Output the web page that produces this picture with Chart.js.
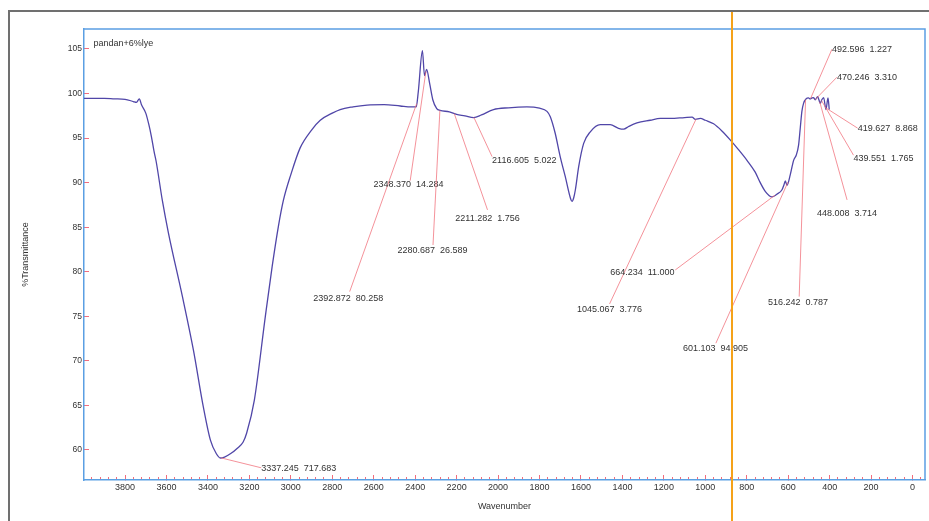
<!DOCTYPE html>
<html>
<head>
<meta charset="utf-8">
<title>pandan+6%lye FTIR</title>
<script src="https://cdn.jsdelivr.net/npm/chart.js"></script>
<style>
  html, body { margin: 0; padding: 0; background: #ffffff; }
  canvas { display: block; }
</style>
</head>
<body>
<canvas id="ftir" width="929" height="521" style="width:929px;height:521px"></canvas>
<script>
// Spectrum: wavenumber (cm-1) and % transmittance
const wavenumbers = [4000,3950,3900,3850,3800,3760,3745,3731,3720,3700,3685,3673,3660,3650,3620,3591,3523,3470,3422,3388,3360,3340,3320,3290,3258,3230,3213,3176,3123,3090,3060,3036,3000,2955,2900,2858,2800,2762,2700,2632,2550,2472,2420,2395,2385,2365,2355,2345,2330,2315,2296,2280,2235,2200,2160,2118,2080,2022,1950,1861,1800,1764,1748,1725,1700,1676,1650,1643,1635,1627,1611,1587,1555,1507,1459,1419,1394,1370,1330,1266,1217,1169,1100,1064,1048,1024,1000,960,920,880,840,799,760,735,710,679,655,630,620,614,606,590,574,561,550,542,534,526,514,502,494,486,478,470,458,452,445,438,429,418,408,402];
const transmittance = [99.45,99.45,99.45,99.4,99.35,99.1,99.0,99.4,98.7,97.8,96.5,95.2,93.5,92.4,88.0,84.4,77.2,71.2,64.8,61.1,59.6,59.1,59.2,59.6,60.2,60.9,61.9,65.6,75.0,80.6,85.1,88.0,90.9,93.9,95.9,97.0,97.8,98.2,98.5,98.7,98.75,98.6,98.5,98.5,100.2,104.8,102.0,102.7,101.1,99.3,98.3,98.1,97.95,97.65,97.5,97.3,97.6,98.2,98.4,98.5,98.35,98.0,97.4,95.6,92.9,90.7,88.2,87.9,88.3,89.2,91.8,94.4,95.7,96.5,96.5,96.1,96.0,96.3,96.7,97.0,97.2,97.2,97.3,97.35,97.1,97.2,97.0,96.6,95.8,94.8,93.7,92.5,91.2,90.0,89.0,88.4,88.7,89.2,89.8,90.2,89.7,90.9,92.5,93.1,94.2,96.1,98.0,98.9,99.4,99.5,99.4,99.5,99.55,99.3,99.65,99.3,98.9,99.3,99.55,98.2,99.5,98.2];

// Peak picks: position and intensity
const peakWavenumbers = [3337.245, 2392.872, 2348.370, 2280.687, 2211.282, 2116.605, 1045.067, 664.234, 601.103, 516.242, 448.008, 439.551, 419.627, 470.246, 492.596];
const peakIntensities = [717.683, 80.258, 14.284, 26.589, 1.756, 5.022, 3.776, 11.000, 94.905, 0.787, 3.714, 1.765, 8.868, 3.310, 1.227];

// Axis ticks
const xMajorStep = 200;
const xMinorStep = 40;
const yStep = 5;

const sampleName = 'pandan+6%lye';
const cursorWavenumber = 871;

// Where each peak label sits (wavenumber, %T) and where its leader line meets the label
const labelAnchors = [[3143,57.9],[2892,77.03],[2601,89.74],[2485,82.33],[2206.5,85.93],[2029,92.47],[1619,75.71],[1459,79.94],[1108,71.41],[698,76.58],[461,86.57],[285,92.74],[265,96.11],[365,101.83],[389,104.97]];
const leaderEnds = [[3143,58.0],[2716,77.77],[2424,90.22],[2314,83.0],[2051,86.94],[2029,92.92],[1462,76.39],[1145,80.20],[949,71.98],[547,77.21],[316,88.06],[285,93.08],[265,96.11],[365,101.83],[389,104.97]];

const FONT = '"Liberation Sans", Arial, sans-serif';
const TEXT = '#333333';
const TICK_RED = '#f26d7d';
const AXIS_BLUE = '#5b9fe3';
const LEADER = 'rgba(240, 110, 120, 0.75)';

// %T on the measured curve at a given wavenumber (data are in descending order)
function curveAt(wn) {
  for (let i = 0; i < wavenumbers.length - 1; i++) {
    const a = wavenumbers[i], b = wavenumbers[i + 1];
    if (wn <= a && wn >= b) {
      const t = (a - wn) / (a - b);
      return transmittance[i] + t * (transmittance[i + 1] - transmittance[i]);
    }
  }
  return transmittance[transmittance.length - 1];
}

const decorations = {
  id: 'decorations',
  beforeDraw(chart) {
    const ctx = chart.ctx;
    ctx.save();
    ctx.fillStyle = '#ffffff';
    ctx.fillRect(0, 0, chart.width, chart.height);
    ctx.restore();
  },
  afterDatasetsDraw(chart) {
    const { ctx, chartArea, scales } = chart;
    const x = scales.x, y = scales.y;
    ctx.save();

    // top and right edges of the plot frame
    ctx.strokeStyle = AXIS_BLUE;
    ctx.lineWidth = 1.5;
    ctx.beginPath();
    ctx.moveTo(chartArea.left, chartArea.top);
    ctx.lineTo(chartArea.right, chartArea.top);
    ctx.lineTo(chartArea.right, chartArea.bottom);
    ctx.stroke();

    // peak labels with leader lines
    ctx.font = '9px ' + FONT;
    ctx.textAlign = 'left';
    ctx.textBaseline = 'middle';
    peakWavenumbers.forEach((wn, i) => {
      const px = x.getPixelForValue(wn);
      const py = y.getPixelForValue(curveAt(wn));
      const ex = x.getPixelForValue(leaderEnds[i][0]);
      const ey = y.getPixelForValue(leaderEnds[i][1]);
      ctx.strokeStyle = LEADER;
      ctx.lineWidth = 1;
      ctx.beginPath();
      ctx.moveTo(px, py);
      ctx.lineTo(ex, ey);
      ctx.stroke();
      const tx = x.getPixelForValue(labelAnchors[i][0]);
      const ty = y.getPixelForValue(labelAnchors[i][1]);
      ctx.fillStyle = TEXT;
      ctx.fillText(wn.toFixed(3) + '  ' + peakIntensities[i].toFixed(3), tx, ty);
    });

    // sample name
    ctx.fillStyle = TEXT;
    ctx.fillText(sampleName, chartArea.left + 9.5, chartArea.top + 15);
    ctx.restore();
  },
  afterDraw(chart) {
    const { ctx, scales } = chart;
    ctx.save();
    // outer frame (top and left)
    ctx.fillStyle = '#707070';
    ctx.fillRect(8, 10, chart.width - 8, 2);
    ctx.fillRect(8, 10, 2, chart.height - 10);
    // cursor line
    const cx = scales.x.getPixelForValue(cursorWavenumber);
    ctx.fillStyle = '#f5a219';
    ctx.fillRect(Math.round(cx) - 1, 12, 2, chart.height - 12);
    ctx.restore();
  }
};

const xMin = -60, xMax = 3998;

new Chart(document.getElementById('ftir'), {
  type: 'line',
  data: {
    datasets: [{
      data: wavenumbers.map((w, i) => ({ x: w, y: transmittance[i] })),
      borderColor: '#5046a8',
      borderWidth: 1.3,
      pointRadius: 0,
      fill: false,
      cubicInterpolationMode: 'monotone'
    }]
  },
  options: {
    responsive: false,
    animation: false,
    devicePixelRatio: 1,
    layout: { padding: { top: 29, right: 4, left: 0, bottom: 0 } },
    plugins: {
      legend: { display: false },
      tooltip: { enabled: false },
      title: { display: false }
    },
    scales: {
      x: {
        type: 'linear',
        position: 'bottom',
        reverse: true,
        min: xMin,
        max: xMax,
        weight: 1,
        afterFit(scale) { scale.height = 41; },
        ticks: {
          stepSize: xMajorStep,
          includeBounds: false,
          autoSkip: false,
          maxRotation: 0,
          padding: 7,
          color: TEXT,
          font: { family: FONT, size: 9 },
          callback: v => String(v)
        },
        grid: {
          display: true,
          drawOnChartArea: false,
          drawTicks: true,
          tickLength: -5,
          tickColor: TICK_RED,
          tickWidth: 1
        },
        border: { display: true, color: AXIS_BLUE, width: 1.5 },
        title: {
          display: true,
          text: 'Wavenumber',
          color: TEXT,
          font: { family: FONT, size: 9 },
          padding: { top: 0, bottom: 8.6 }
        }
      },
      xMinor: {
        type: 'linear',
        position: 'bottom',
        reverse: true,
        min: xMin,
        max: xMax,
        weight: 0,
        afterFit(scale) { scale.height = 0; },
        ticks: { display: false, stepSize: xMinorStep, includeBounds: false, autoSkip: false },
        grid: {
          display: true,
          drawOnChartArea: false,
          drawTicks: true,
          tickLength: -3,
          tickColor: TICK_RED,
          tickWidth: 1
        },
        border: { display: false }
      },
      y: {
        type: 'linear',
        position: 'left',
        min: 56.63,
        max: 107.24,
        afterFit(scale) { scale.width = 84; },
        ticks: {
          stepSize: yStep,
          includeBounds: false,
          padding: 7,
          color: TEXT,
          font: { family: FONT, size: 8.5 },
          callback: v => String(v)
        },
        grid: {
          display: true,
          drawOnChartArea: false,
          drawTicks: true,
          tickLength: -5,
          tickColor: TICK_RED,
          tickWidth: 1
        },
        border: { display: true, color: AXIS_BLUE, width: 1.5 },
        title: {
          display: true,
          text: '%Transmittance',
          color: TEXT,
          font: { family: FONT, size: 9 },
          padding: { top: 20.6, bottom: 0 }
        }
      }
    }
  },
  plugins: [decorations]
});
</script>
</body>
</html>
